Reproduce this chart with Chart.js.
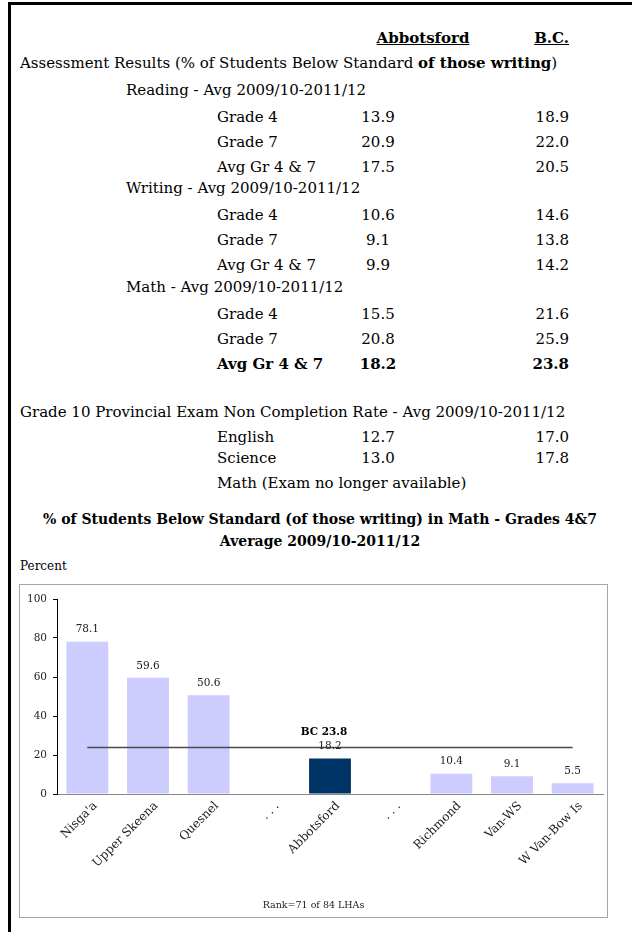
<!DOCTYPE html>
<html>
<head>
<meta charset="utf-8">
<script src="https://cdn.jsdelivr.net/npm/chart.js@4.4.1/dist/chart.umd.min.js"></script>
<style>
  body { margin: 0; background: #fff; font-family: "DejaVu Serif", serif; color: #000; }
  #page { position: relative; width: 632px; height: 932px; overflow: hidden; }
  #frame { position: absolute; left: 8px; top: 2px; width: 700px; height: 1000px;
           border-top: 3px solid #000; border-left: 3px solid #000; }
  .t { position: absolute; font-size: 15px; line-height: 20px; white-space: nowrap; }
  .c { transform: translateX(-50%); }
  .b { font-weight: bold; }
  .u { text-decoration: underline; }
  #box { position: absolute; left: 19px; top: 584px; width: 587px; height: 332px;
         border: 1px solid #a6a6a6; }
</style>
</head>
<body>
<div id="page">
  <div id="frame"></div>
  <div id="box"><canvas id="mathChart"></canvas></div>
</div>
<script>
// table values
const colHeads = ['Abbotsford', 'B.C.'];
const gradeRows = ['Grade 4', 'Grade 7', 'Avg Gr 4 & 7'];
const readingLocal = [13.9, 20.9, 17.5];
const readingBC = [18.9, 22.0, 20.5];
const writingLocal = [10.6, 9.1, 9.9];
const writingBC = [14.6, 13.8, 14.2];
const mathLocal = [15.5, 20.8, 18.2];
const mathBC = [21.6, 25.9, 23.8];
const examRows = ['English', 'Science'];
const examLocal = [12.7, 13.0];
const examBC = [17.0, 17.8];

// chart values
const lhaLabels = ["Nisga'a", 'Upper Skeena', 'Quesnel', '. . .', 'Abbotsford', '. . .', 'Richmond', 'Van-WS', 'W Van-Bow Is'];
const belowStandard = [78.1, 59.6, 50.6, null, 18.2, null, 10.4, 9.1, 5.5];
const bcAverage = 23.8;
const yTicks = [0, 20, 40, 60, 80, 100];
const rankNote = 'Rank=71 of 84 LHAs';

const page = document.getElementById('page');

function addText(txt, x, cy, cls, right) {
  const d = document.createElement('div');
  d.className = 't ' + (cls || '');
  d.textContent = txt;
  d.style.top = (cy - 10) + 'px';
  if (right) d.style.right = (632 - x) + 'px';
  else d.style.left = x + 'px';
  page.appendChild(d);
  return d;
}

addText(colHeads[0], 423, 38, 'b u c');
addText(colHeads[1], 569, 38, 'b u', true);
const ar = addText('Assessment Results (% of Students Below Standard ', 20, 63);
const bold = document.createElement('b');
bold.textContent = 'of those writing';
ar.appendChild(bold);
ar.appendChild(document.createTextNode(')'));

function section(title, y, local, bc) {
  addText(title, 126, y);
  gradeRows.forEach((g, i) => {
    const cy = y + 27 + i * 25;
    const cls = (title.startsWith('Math') && i === 2) ? 'b' : '';
    addText(g, 217, cy, cls);
    addText(local[i].toFixed(1), 378, cy, 'c ' + cls);
    addText(bc[i].toFixed(1), 569, cy, cls, true);
  });
}
section('Reading - Avg 2009/10-2011/12', 90, readingLocal, readingBC);
section('Writing - Avg 2009/10-2011/12', 188, writingLocal, writingBC);
section('Math - Avg 2009/10-2011/12', 287, mathLocal, mathBC);

addText('Grade 10 Provincial Exam Non Completion Rate - Avg 2009/10-2011/12', 20, 412);
examRows.forEach((r, i) => {
  const cy = 437 + i * 21;
  addText(r, 217, cy);
  addText(examLocal[i].toFixed(1), 378, cy, 'c');
  addText(examBC[i].toFixed(1), 569, cy, '', true);
});
addText('Math (Exam no longer available)', 217, 483);

const t1 = addText('% of Students Below Standard (of those writing) in Math - Grades 4&7', 320, 519, 'b c');
const t2 = addText('Average 2009/10-2011/12', 320, 541, 'b c');
t1.style.fontSize = t2.style.fontSize = '14px';
const pc = addText('Percent', 20, 566);
pc.style.fontSize = '12px';

const valueLabels = {
  id: 'valueLabels',
  afterDatasetsDraw(chart) {
    const ctx = chart.ctx;
    const meta = chart.getDatasetMeta(1);
    ctx.save();
    ctx.textAlign = 'center';
    ctx.textBaseline = 'middle';
    ctx.font = '10.5px "DejaVu Serif"';
    ctx.fillStyle = '#222';
    meta.data.forEach((bar, i) => {
      const v = belowStandard[i];
      if (v == null) return;
      ctx.fillText(v.toFixed(1), bar.x, bar.y - 12);
    });
    const x = chart.scales.x.getPixelForValue(lhaLabels.indexOf('Abbotsford'));
    const y = chart.scales.y.getPixelForValue(bcAverage);
    ctx.font = 'bold 10.5px "DejaVu Serif"';
    ctx.fillStyle = '#000';
    ctx.fillText('BC ' + bcAverage.toFixed(1), x - 6, y - 15);
    ctx.font = '9.5px "DejaVu Serif"';
    ctx.fillStyle = '#222';
    ctx.fillText(rankNote, chart.width / 2, chart.height - 11);
    ctx.restore();
  }
};

new Chart(document.getElementById('mathChart'), {
  type: 'bar',
  data: {
    labels: lhaLabels,
    datasets: [{
      type: 'line',
      data: lhaLabels.map(() => bcAverage),
      borderColor: '#4a4a4a',
      borderWidth: 1.5,
      pointRadius: 0,
      order: 0
    }, {
      data: belowStandard,
      backgroundColor: lhaLabels.map(l => l === 'Abbotsford' ? '#003366' : '#ccccff'),
      barPercentage: 0.69,
      categoryPercentage: 1,
      order: 1
    }]
  },
  options: {
    responsive: true,
    maintainAspectRatio: false,
    animation: false,
    layout: { padding: { top: 14, right: 4, bottom: 4, left: 0 } },
    plugins: {
      legend: { display: false },
      tooltip: { enabled: false }
    },
    scales: {
      x: {
        grid: { drawOnChartArea: false, drawTicks: false },
        border: { color: '#888' },
        ticks: { autoSkip: false, maxRotation: 45, minRotation: 45, padding: 5, labelOffset: 8, color: '#222', font: { family: 'DejaVu Serif', size: 12 } },
        afterFit: s => { s.height = 119; }
      },
      y: {
        min: 0,
        max: 100,
        afterBuildTicks: s => { s.ticks = yTicks.map(v => ({ value: v })); },
        ticks: { padding: 6, color: '#222', font: { family: 'DejaVu Serif', size: 10.5 } },
        grid: { drawOnChartArea: false, tickLength: 4, color: '#000' },
        border: { color: '#000' },
        afterFit: s => { s.width = 37; }
      }
    }
  },
  plugins: [valueLabels]
});
</script>
</body>
</html>
